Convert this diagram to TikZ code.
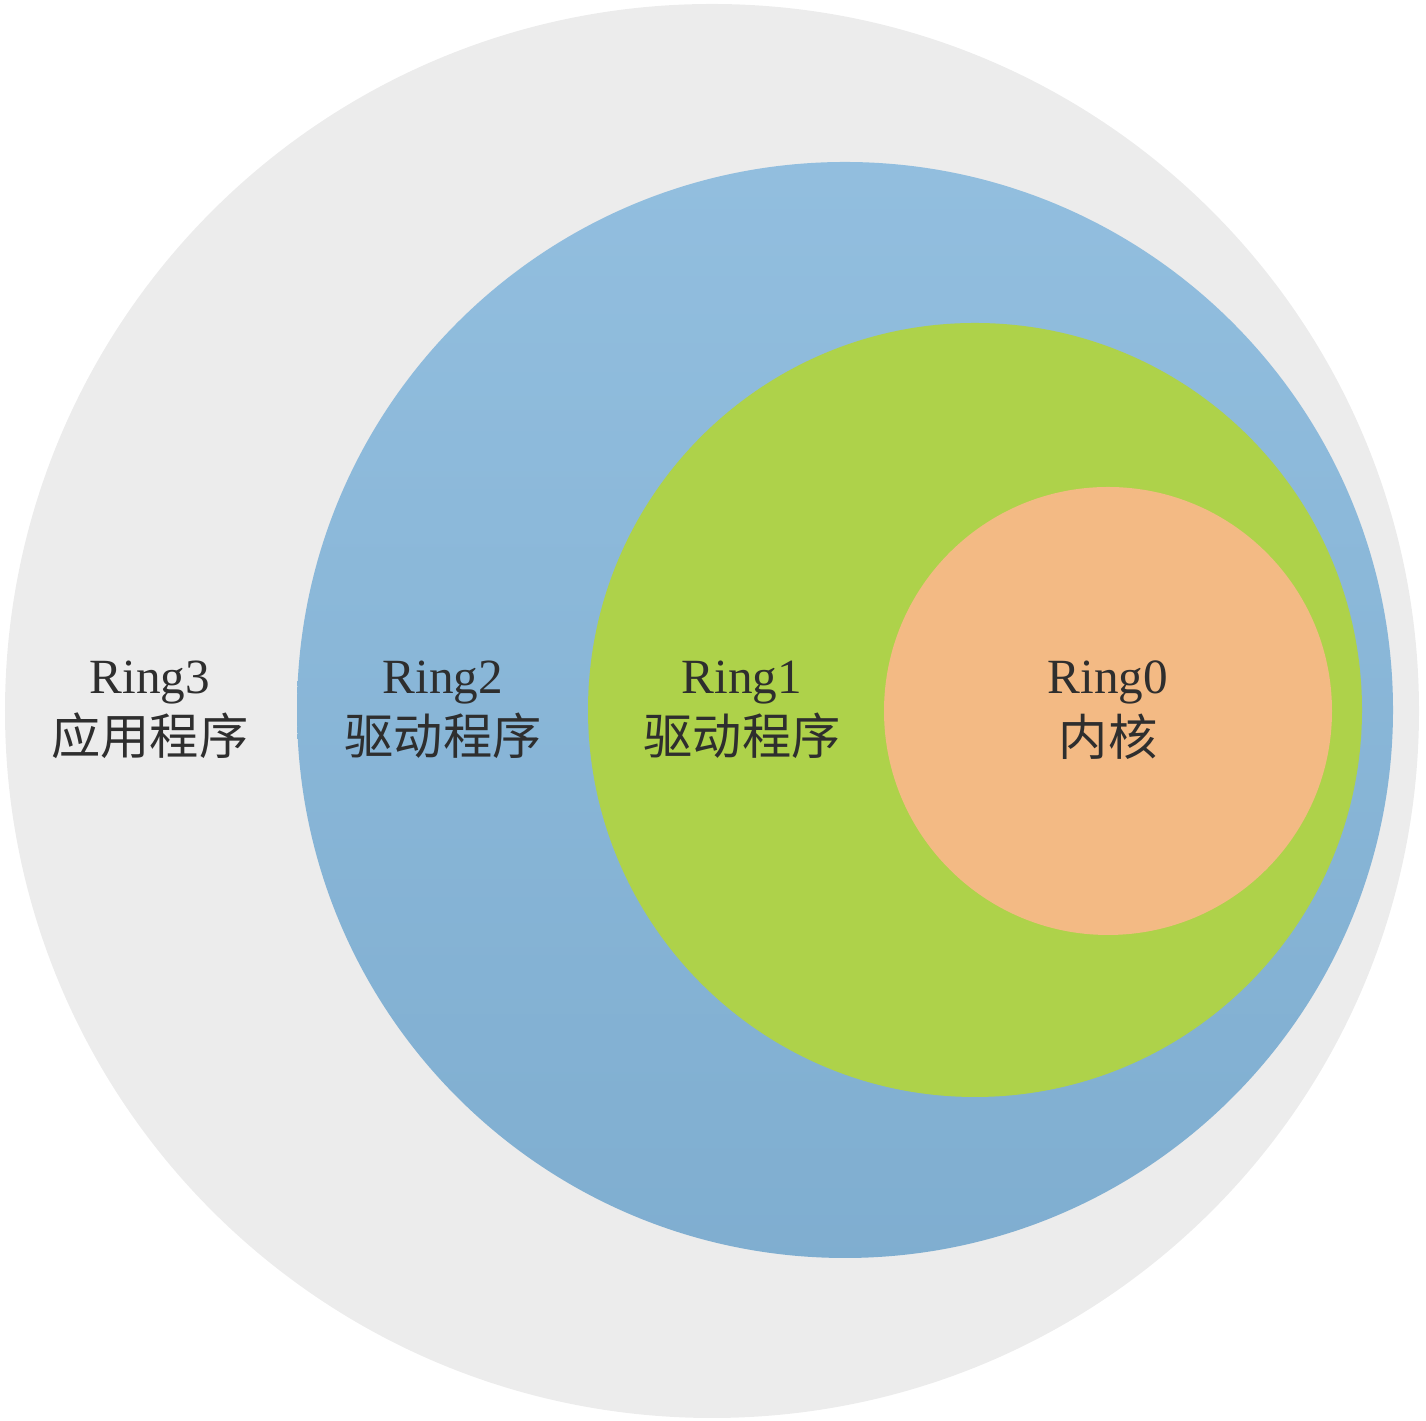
\documentclass[tikz,border=0pt]{standalone}
\usepackage{fontspec}
\setmainfont{Liberation Serif}
\newfontfamily\cjkfont{Noto Sans CJK SC}
\usetikzlibrary{positioning}
\definecolor{ringgray}{HTML}{ECECEC}
\definecolor{ringblue}{HTML}{86B7DB}
\definecolor{ringgreen}{HTML}{AED24A}
\definecolor{ringorange}{HTML}{F3BA84}
\definecolor{labelgray}{HTML}{2E2E2E}
\tikzset{
  ring/.style={circle, draw=none, inner sep=0pt},
  ringlabel/.style={align=center, text=labelgray, font=\fontsize{14}{17.5}\selectfont},
}

\begin{document}
\begin{tikzpicture}

  \useasboundingbox (0,0) rectangle (14.26,14.21);

  % nested rings, each touching the right side
  \node[ring, fill=ringgray, minimum size=14.14cm] (ring3) at (7.12,7.10) {};
  \node[ring, top color=ringblue!90!white, bottom color=ringblue!95!black, minimum size=10.96cm] (ring2) at (8.45,7.11) {};
  \node[ring, fill=ringgreen, minimum size=7.74cm] (ring1) at (9.75,7.11) {};
  \node[ring, fill=ringorange, minimum size=4.48cm] (ring0) at (11.08,7.10) {};

  % labels
  \node[ringlabel] (lab3) at (1.50,7.11) {Ring3\\{\cjkfont 应用程序}};
  \node[ringlabel] (lab2) at (4.43,7.11) {Ring2\\{\cjkfont 驱动程序}};
  \node[ringlabel] (lab1) at (7.42,7.11) {Ring1\\{\cjkfont 驱动程序}};
  \node[ringlabel] (lab0) at (11.08,7.11) {Ring0\\{\cjkfont 内核}};

\end{tikzpicture}
\end{document}
